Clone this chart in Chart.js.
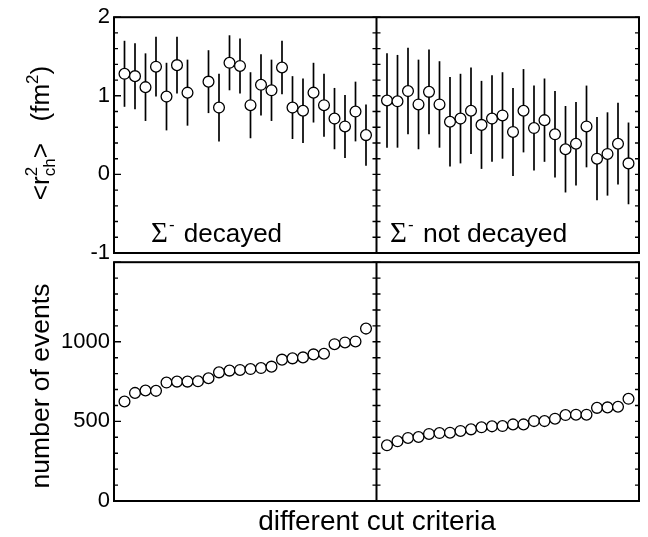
<!DOCTYPE html>
<html>
<head>
<meta charset="utf-8">
<script src="https://cdn.jsdelivr.net/npm/chart.js@4.4.1/dist/chart.umd.min.js"></script>
<style>
  html, body { margin: 0; padding: 0; background: #fff; }
  #wrap { position: relative; width: 648px; height: 537px; }
  canvas { position: absolute; left: 0; }
  #topChart { top: 0; }
  #botChart { top: 245px; }
</style>
</head>
<body>
<div id="wrap">
  <canvas id="topChart" width="648" height="275"></canvas>
  <canvas id="botChart" width="648" height="292"></canvas>
</div>
<script>
// charge radius results (fm^2) per cut criterion
const decayedR = [1.28, 1.25, 1.11, 1.37, 0.99, 1.39, 1.04, null, 1.18, 0.85, 1.42, 1.38,
                  0.88, 1.14, 1.07, 1.36, 0.85, 0.81, 1.04, 0.88, 0.71, 0.61, 0.80, 0.50];
const decayedErr = [0.42, 0.42, 0.43, 0.38, 0.43, 0.36, 0.42, null, 0.40, 0.43, 0.35, 0.35,
                    0.42, 0.39, 0.39, 0.34, 0.40, 0.41, 0.38, 0.40, 0.39, 0.40, 0.38, 0.39];
const notDecayedR = [0.94, 0.93, 1.06, 0.89, 1.05, 0.89, 0.67, 0.71, 0.81, 0.63, 0.71, 0.75,
                     0.54, 0.81, 0.59, 0.69, 0.51, 0.32, 0.39, 0.61, 0.20, 0.26, 0.39, 0.14];
const notDecayedErr = [0.60, 0.59, 0.55, 0.57, 0.54, 0.55, 0.57, 0.57, 0.55, 0.56, 0.55, 0.55,
                       0.56, 0.53, 0.54, 0.53, 0.55, 0.55, 0.53, 0.52, 0.53, 0.53, 0.52, 0.52];

// number of events per cut criterion
const decayedN = [625, 679, 694, 692, 744, 750, 750, 752, 771, 808, 819, 823,
                  829, 835, 844, 888, 896, 902, 921, 925, 985, 996, 1002, 1083];
const notDecayedN = [350, 375, 396, 402, 421, 427, 429, 440, 450, 463, 469, 471,
                     481, 481, 502, 502, 517, 540, 542, 542, 585, 588, 592, 642];

// tick labels
const topTickLabels = [-1, 0, 1, 2];
const botTickLabels = [0, 500, 1000];

// left panel sits at x = 0..23, right panel at x = 25..48, divider at 24
const RIGHT_OFFSET = 25;
const DIVIDER = 24;

const FONT = "'Liberation Sans', Arial, Helvetica, sans-serif";
const SERIF = "'Liberation Serif', 'Times New Roman', serif";

Chart.defaults.font.family = FONT;
Chart.defaults.color = '#000';

function toPoints(vals, offset) {
    return vals.map((v, i) => ({ x: i + offset, y: v }));
}

function pointDataset(vals, errs, offset) {
    return {
        data: toPoints(vals, offset),
        errors: errs,
        showLine: false,
        pointStyle: 'circle',
        pointRadius: 5.4,
        pointBorderWidth: 1.3,
        pointBorderColor: '#000',
        pointBackgroundColor: '#fff'
    };
}

// error bars, frame, divider and inward ticks
const framePlugin = {
    id: 'frame',
    beforeDatasetsDraw(chart) {
        const ctx = chart.ctx;
        const xs = chart.scales.x, ys = chart.scales.y;
        ctx.save();
        ctx.strokeStyle = '#000';
        ctx.lineWidth = 1.7;
        chart.data.datasets.forEach(ds => {
            if (!ds.errors) return;
            ds.data.forEach((p, i) => {
                const e = ds.errors[i];
                if (p.y == null || e == null) return;
                const px = xs.getPixelForValue(p.x);
                ctx.beginPath();
                ctx.moveTo(px, ys.getPixelForValue(p.y - e));
                ctx.lineTo(px, ys.getPixelForValue(p.y + e));
                ctx.stroke();
            });
        });
        ctx.restore();
    },
    afterDatasetsDraw(chart, args, opts) {
        const ctx = chart.ctx;
        const a = chart.chartArea;
        const xs = chart.scales.x, ys = chart.scales.y;
        const xd = xs.getPixelForValue(DIVIDER);
        ctx.save();
        ctx.strokeStyle = '#000';

        // ticks
        ctx.lineWidth = 1.4;
        ys.ticks.forEach(t => {
            const py = ys.getPixelForValue(t.value);
            const r = t.value / opts.major;
            const isMajor = Math.abs(r - Math.round(r)) < 1e-6;
            const len = isMajor ? 7 : 4;
            ctx.beginPath();
            ctx.moveTo(a.left, py); ctx.lineTo(a.left + len, py);
            ctx.moveTo(a.right, py); ctx.lineTo(a.right - 4, py);
            ctx.moveTo(xd - 4, py); ctx.lineTo(xd + 4, py);
            ctx.stroke();
        });

        // frame + divider
        ctx.lineWidth = 2;
        ctx.strokeRect(a.left, a.top, a.right - a.left, a.bottom - a.top);
        ctx.beginPath();
        ctx.moveTo(xd, a.top); ctx.lineTo(xd, a.bottom);
        ctx.stroke();
        ctx.restore();
    }
};

// draw a run of text pieces (sub/superscripts, mixed fonts)
function richWidth(ctx, parts) {
    let w = 0;
    parts.forEach(p => {
        ctx.font = p.size + 'px ' + (p.serif ? SERIF : FONT);
        if (!p.noAdvance) w += ctx.measureText(p.t).width + (p.dx || 0);
    });
    return w;
}
function drawRich(ctx, parts, x, y, center) {
    ctx.save();
    ctx.fillStyle = '#000';
    ctx.textBaseline = 'alphabetic';
    ctx.textAlign = 'left';
    let cx = center ? x - richWidth(ctx, parts) / 2 : x;
    parts.forEach(p => {
        ctx.font = p.size + 'px ' + (p.serif ? SERIF : FONT);
        cx += (p.dx || 0);
        ctx.fillText(p.t, cx, y + (p.dy || 0));
        if (!p.noAdvance) cx += ctx.measureText(p.t).width;
    });
    ctx.restore();
}
function drawRotated(ctx, parts, cx, cy) {
    ctx.save();
    ctx.translate(cx, cy);
    ctx.rotate(-Math.PI / 2);
    drawRich(ctx, parts, 0, 9, true);
    ctx.restore();
}

function yScale(min, max, step, labels) {
    return {
        type: 'linear',
        min: min,
        max: max,
        afterFit(scale) { scale.width = 114; },
        grid: { display: false, drawTicks: false },
        border: { display: false },
        ticks: {
            stepSize: step,
            autoSkip: false,
            padding: 4,
            font: { size: 22 },
            color: '#000',
            callback: v => labels.some(l => Math.abs(l - v) < 1e-6) ? String(Math.round(v)) : ''
        }
    };
}

const xScale = { type: 'linear', min: -1, max: 49, display: false };

const commonOpts = {
    responsive: false,
    animation: false,
    plugins: { legend: { display: false }, tooltip: { enabled: false } }
};

// top: charge radius
new Chart(document.getElementById('topChart'), {
    type: 'scatter',
    data: {
        datasets: [
            pointDataset(decayedR, decayedErr, 0),
            pointDataset(notDecayedR, notDecayedErr, RIGHT_OFFSET)
        ]
    },
    options: Object.assign({}, commonOpts, {
        layout: { padding: { top: 17, right: 9, bottom: 22, left: 0 } },
        scales: { x: xScale, y: yScale(-1, 2, 0.2, topTickLabels) },
        plugins: Object.assign({}, commonOpts.plugins, { frame: { major: 1 } })
    }),
    plugins: [framePlugin, {
        id: 'topText',
        afterDraw(chart) {
            const ctx = chart.ctx;
            drawRotated(ctx, [
                { t: '<r', size: 26 },
                { t: '2', size: 17, dy: -12, noAdvance: true },
                { t: 'ch', size: 17, dy: 6 },
                { t: '>   (fm', size: 26 },
                { t: '2', size: 17, dy: -11 },
                { t: ')', size: 26 }
            ], 40, 133);
            drawRich(ctx, [
                { t: 'Σ', size: 29, serif: true },
                { t: '-', size: 17, dy: -12, dx: 1 },
                { t: ' decayed', size: 26, dx: 2 }
            ], 151, 242, false);
            drawRich(ctx, [
                { t: 'Σ', size: 29, serif: true },
                { t: '-', size: 17, dy: -12, dx: 1 },
                { t: ' not decayed', size: 26.5, dx: 2 }
            ], 390, 242, false);
        }
    }]
});

// bottom: number of events
new Chart(document.getElementById('botChart'), {
    type: 'scatter',
    data: {
        datasets: [
            pointDataset(decayedN, null, 0),
            pointDataset(notDecayedN, null, RIGHT_OFFSET)
        ]
    },
    options: Object.assign({}, commonOpts, {
        layout: { padding: { top: 17, right: 9, bottom: 36, left: 0 } },
        scales: { x: xScale, y: yScale(0, 1500, 100, botTickLabels) },
        plugins: Object.assign({}, commonOpts.plugins, { frame: { major: 500 } })
    }),
    plugins: [framePlugin, {
        id: 'botText',
        afterDraw(chart) {
            const ctx = chart.ctx;
            drawRotated(ctx, [{ t: 'number of events', size: 26.5 }], 40, 141);
            drawRich(ctx, [{ t: 'different cut criteria', size: 28 }], 377, 285, true);
        }
    }]
});
</script>
</body>
</html>
